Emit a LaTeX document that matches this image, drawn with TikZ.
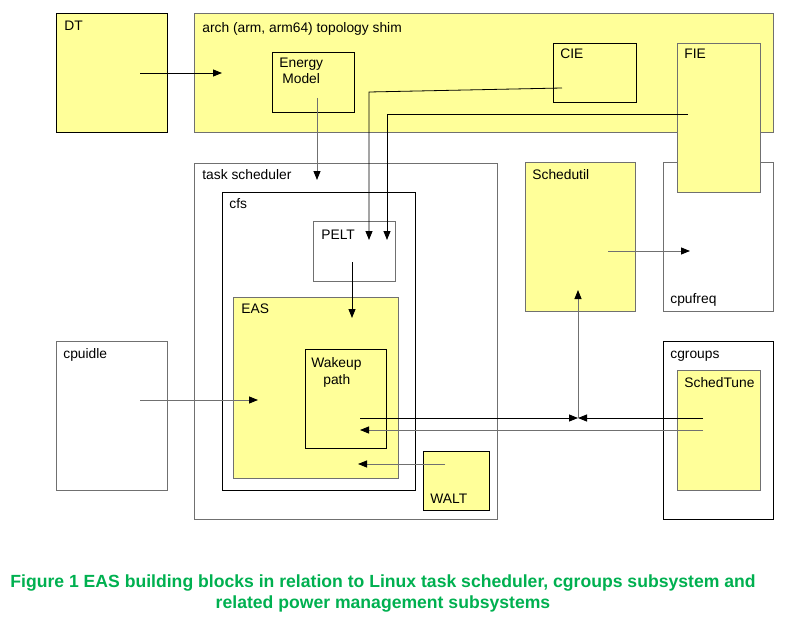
\documentclass[tikz,border=0pt]{standalone}
\usepackage{fontspec}
\setmainfont{Liberation Sans}
\usetikzlibrary{arrows.meta,positioning}
\definecolor{boxyellow}{HTML}{FFFF99}
\definecolor{capgreen}{HTML}{00B050}
\definecolor{edgegray}{HTML}{707070}

\begin{document}
\begin{tikzpicture}[x=1pt, y=-1pt, line width=0.8pt, >={Triangle[length=9pt,width=7pt,color=black]},
                    block/.style={rectangle, draw=edgegray, anchor=north west, inner sep=0pt},
                    yblock/.style={block, fill=boxyellow},
                    lbl/.style={anchor=base west, inner sep=0pt, font=\fontsize{13.8}{16}\selectfont}]
  \useasboundingbox (0,0) rectangle (788,626);
  % top row
  \node[yblock, draw=black, minimum width=111pt, minimum height=119pt] (dt) at (56,13) {};
  \node[yblock, minimum width=579pt, minimum height=119pt] (arch) at (194,13) {};
  \node[block, draw=black, minimum width=82pt, minimum height=60pt] (energy) at (272,52) {};
  \node[block, draw=black, minimum width=83pt, minimum height=59pt] (cie) at (553,43) {};
  \node[block, minimum width=110pt, minimum height=149pt] (cpufreq) at (663,162) {};
  \node[yblock, minimum width=83pt, minimum height=149pt] (fie) at (677,43) {};
  % scheduler
  \node[block, minimum width=303pt, minimum height=356pt] (sched) at (194,163) {};
  \node[block, draw=black, minimum width=193pt, minimum height=298pt] (cfs) at (222,192) {};
  \node[block, minimum width=82pt, minimum height=60pt] (pelt) at (313,221) {};
  \node[yblock, minimum width=165pt, minimum height=181pt] (eas) at (233,297) {};
  \node[block, draw=black, minimum width=81pt, minimum height=99pt] (wakeup) at (305,349) {};
  \node[yblock, draw=black, minimum width=66pt, minimum height=59pt] (walt) at (423,451) {};
  % other subsystems
  \node[yblock, minimum width=110pt, minimum height=149pt] (schedutil) at (525,162) {};
  \node[block, minimum width=111pt, minimum height=149pt] (cpuidle) at (56,341) {};
  \node[block, draw=black, minimum width=110pt, minimum height=178pt] (cgroups) at (663,341) {};
  \node[yblock, minimum width=83pt, minimum height=120pt] (schedtune) at (677,370) {};
  % labels
  \node[lbl] (dtl) at ([shift={(8,18)}]dt.north west) {DT};
  \node[lbl] (archl) at ([shift={(8,20)}]arch.north west) {arch (arm, arm64) topology shim};
  \node[lbl] (energyl) at ([shift={(7,16)}]energy.north west) {Energy};
  \node[lbl] (energyl2) at ([shift={(10,32)}]energy.north west) {Model};
  \node[lbl] (ciel) at ([shift={(7,16)}]cie.north west) {CIE};
  \node[lbl] (fiel) at ([shift={(7,16)}]fie.north west) {FIE};
  \node[lbl] (schedl) at ([shift={(8,16)}]sched.north west) {task scheduler};
  \node[lbl] (cfsl) at ([shift={(7,16)}]cfs.north west) {cfs};
  \node[lbl] (peltl) at ([shift={(8,18)}]pelt.north west) {PELT};
  \node[lbl] (easl) at ([shift={(8,16)}]eas.north west) {EAS};
  \node[lbl] (wakeupl) at ([shift={(6,18)}]wakeup.north west) {Wakeup};
  \node[lbl] (wakeupl2) at ([shift={(18,35)}]wakeup.north west) {path};
  \node[lbl] (waltl) at ([shift={(7,-7)}]walt.south west) {WALT};
  \node[lbl] (schedutill) at ([shift={(7,17)}]schedutil.north west) {Schedutil};
  \node[lbl] (cpufreql) at ([shift={(7,-8)}]cpufreq.south west) {cpufreq};
  \node[lbl] (cpuidlel) at ([shift={(7,17)}]cpuidle.north west) {cpuidle};
  \node[lbl] (cgroupsl) at ([shift={(7,17)}]cgroups.north west) {cgroups};
  \node[lbl] (schedtunel) at ([shift={(7,17)}]schedtune.north west) {SchedTune};
  \node[font=\bfseries\fontsize{17.6}{21}\selectfont, text=capgreen, align=center] (caption) at (383,593)
    {Figure 1 EAS building blocks in relation to Linux task scheduler, cgroups subsystem and\\
     related power management subsystems};
  % arrow ends
  \coordinate (dtout) at (140,73);
  \coordinate (archin) at (222,73);
  \coordinate (energyout) at (317,98);
  \coordinate (schedin) at (317,180);
  \coordinate (cieout) at (562,88);
  \coordinate (ciebend) at (369,92);
  \coordinate (peltin) at (369,240);
  \coordinate (fieout) at (688,114);
  \coordinate (fiebend) at (387,114);
  \coordinate (peltin2) at (387,240);
  \coordinate (peltout) at (352,262);
  \coordinate (easin) at (352,318);
  \coordinate (cpuidleout) at (140,400);
  \coordinate (easin2) at (258,400);
  \coordinate (schedutilout) at (608,251);
  \coordinate (cpufreqin) at (690,251);
  \coordinate (wakeupout) at (360,418);
  \coordinate (tuneout) at (703,418);
  \coordinate (meet) at (578,418);
  \coordinate (schedutilin) at (578,290);
  \coordinate (tuneout2) at (703,430);
  \coordinate (wakeupin) at (360,430);
  \coordinate (waltout) at (445,464);
  \coordinate (easin3) at (358,464);
  % connectors
  \draw[->] (dtout) -- (archin);
  \draw[->, draw=edgegray] (energyout) -- (schedin);
  \draw[->] (cieout) -- (ciebend) -- (peltin);
  \draw[->] (fieout) -- (fiebend) -- (peltin2);
  \draw[->] (peltout) -- (easin);
  \draw[->, draw=edgegray] (cpuidleout) -- (easin2);
  \draw[->, draw=edgegray] (schedutilout) -- (cpufreqin);
  \draw[->] (wakeupout) -- (meet);
  \draw[->] (tuneout) -- (meet);
  \draw[->, draw=edgegray] (meet) -- (schedutilin);
  \draw[->, draw=edgegray] (tuneout2) -- (wakeupin);
  \draw[->, draw=edgegray] (waltout) -- (easin3);
\end{tikzpicture}
\end{document}
